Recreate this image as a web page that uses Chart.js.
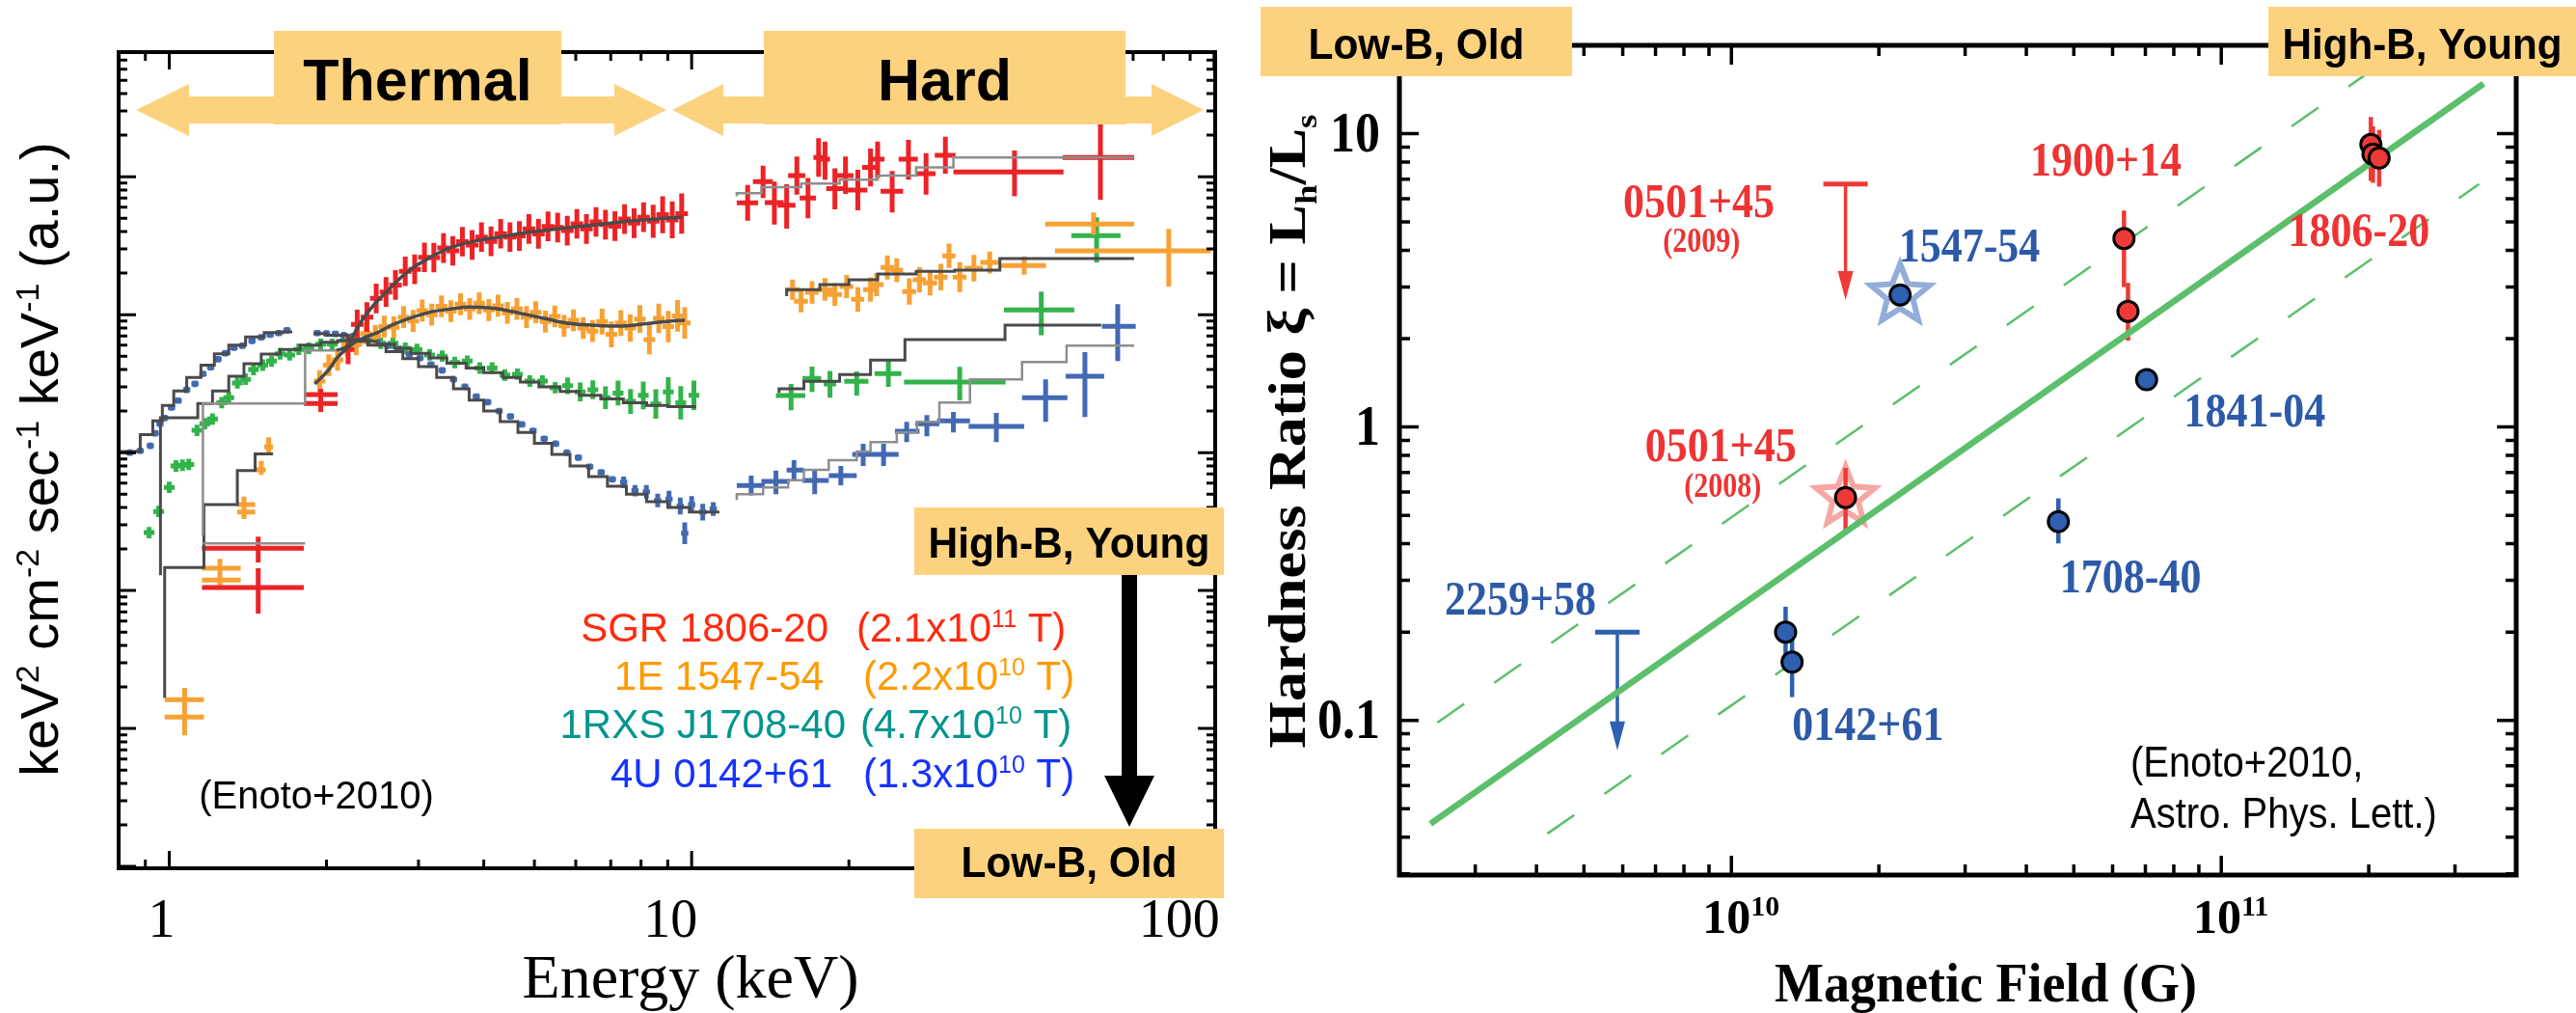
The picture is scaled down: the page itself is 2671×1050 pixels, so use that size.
<!DOCTYPE html>
<html>
<head>
<meta charset="utf-8">
<script src="https://cdn.jsdelivr.net/npm/chart.js@4.4.1/dist/chart.umd.min.js"></script>
<style>
  html, body { margin: 0; padding: 0; background: #fff; }
  #wrap { position: relative; width: 2671px; height: 1050px; }
  canvas { position: absolute; top: 0; }
  #spec { left: 0; }
  #ratio { left: 1300px; }
</style>
</head>
<body>
<div id="wrap">
  <canvas id="spec" width="1300" height="1050"></canvas>
  <canvas id="ratio" width="1371" height="1050"></canvas>
</div>
<script>
// ---------- spectra: [E keV, flux (a.u.), optional flux error factor] ----------
const energyTicks = [1, 10, 100];

const sgrSoft = [[2.20,5.6],[2.29,8.5],[2.39,9.6],[2.49,13.1],[2.60,14.6],[2.71,16.4],[2.83,20.6],[2.95,21.3],[3.08,26.0],[3.21,25.9],[3.35,30.4],[3.49,29.0],[3.64,33.8],[3.80,32.0],[3.96,36.5],[4.13,34.0],[4.31,38.6],[4.49,36.5],[4.68,37.2],[4.88,41.8],[5.09,38.5],[5.31,43.6],[5.54,42.8],[5.78,40.6],[6.03,45.5],[6.29,41.8],[6.56,47.0],[6.84,44.9],[7.13,43.8],[7.44,49.3],[7.76,46.0],[8.09,50.8],[8.44,47.5,1.32],[8.80,53.0,1.36],[9.18,48.6,1.36],[9.57,54.0,1.4]];
const axpSoft = [[1.94,3.3],[2.02,4.3],[2.10,4.7],[2.19,6.0],[2.28,6.1],[2.38,7.3],[2.48,7.0],[2.58,8.2],[2.69,8.1],[2.81,9.6],[2.93,9.0],[3.05,10.7],[3.18,10.0],[3.32,11.5],[3.46,10.6],[3.61,11.9],[3.76,11.0],[3.92,12.1],[4.09,10.8],[4.26,11.6],[4.44,10.3],[4.63,11.0],[4.83,9.6],[5.03,10.4],[5.25,8.9],[5.47,9.7],[5.70,8.3],[5.94,9.1],[6.20,8.0],[6.46,7.6],[6.74,8.9,1.24],[7.02,7.2,1.24],[7.32,8.7,1.24],[7.63,8.0,1.26],[7.96,9.3,1.26],[8.30,6.6,1.28],[8.65,9.4,1.28],[9.02,8.2,1.3],[9.40,9.8,1.3],[9.70,8.7,1.3]];
const rxsSoft = [[0.915,0.263],[0.954,0.374],[1.0,0.56],[1.03,0.80],[1.06,0.81],[1.09,0.82],[1.13,1.45],[1.17,1.62],[1.21,1.75],[1.26,2.3],[1.30,2.5],[1.35,3.2],[1.40,3.4],[1.45,4.0],[1.51,4.3],[1.57,4.6],[1.63,5.2],[1.70,5.1],[1.77,5.6],[1.85,5.7],[1.95,6.1],[2.05,6.1],[2.17,6.5],[2.29,6.4],[2.41,6.6],[2.54,6.2],[2.68,6.2],[2.83,5.7],[2.98,5.6],[3.15,5.1],[3.33,5.0],[3.52,4.5],[3.72,4.6],[3.93,4.1],[4.15,4.1],[4.39,3.65],[4.64,3.7],[4.90,3.3],[5.18,3.3],[5.48,2.95],[5.79,3.05,1.15],[6.12,2.75,1.17],[6.47,2.85,1.17],[6.84,2.5,1.21],[7.23,2.7,1.23],[7.64,2.35,1.23],[8.08,2.6,1.26],[8.54,2.25,1.28],[9.02,2.75,1.28],[9.53,2.3,1.32],[10.1,2.6,1.28]];
const u0142Soft = [[0.84,1.0],[0.88,1.03],[0.92,1.12],[0.94,1.38],[0.96,1.62],[0.98,1.78],[1.01,2.12],[1.04,2.38],[1.08,2.85],[1.12,3.15],[1.16,3.72],[1.20,4.15],[1.24,4.75],[1.28,5.25],[1.33,5.75],[1.38,5.95],[1.44,6.45],[1.50,6.85],[1.56,7.15],[1.62,7.35],[1.68,7.7],[1.92,7.35],[2.00,7.3],[2.08,7.25],[2.16,7.1],[2.25,7.0],[2.40,6.55],[2.50,6.35],[2.62,5.95],[2.75,5.65],[2.88,5.15],[3.02,4.85],[3.17,4.35],[3.33,3.95],[3.50,3.4],[3.68,3.0],[3.87,2.55],[4.07,2.32],[4.28,2.0],[4.50,1.83],[4.73,1.6],[4.97,1.44],[5.22,1.26],[5.49,1.16],[5.77,1.0],[6.07,0.92],[6.38,0.79],[6.71,0.72],[7.05,0.64],[7.41,0.61,1.1],[7.79,0.53,1.1],[8.19,0.52,1.12],[8.61,0.45,1.12],[9.05,0.46,1.15],[9.51,0.41,1.15],[9.70,0.26,1.2],[10.0,0.42,1.15],[10.5,0.37,1.15],[11.0,0.39,1.12]];

// wide-bin points: [E, flux, Elo, Ehi, fluxLo, fluxHi]
const sgrWide = [[1.48,0.203,1.155,1.81,0.160,0.246],[1.48,0.105,1.155,1.81,0.068,0.145],[1.95,2.63,1.81,2.10,1.97,2.90],[1.95,2.27,1.81,2.10,1.97,2.90]];
const axpWide = [[1.07,0.0162,0.98,1.165,0.0140,0.0197],[1.07,0.0121,0.98,1.165,0.0089,0.0140],[1.25,0.145,1.155,1.37,0.125,0.170],[1.25,0.119,1.155,1.37,0.105,0.135],[1.39,0.42,1.35,1.46,0.34,0.48],[1.39,0.37,1.35,1.46,0.33,0.42],[1.50,0.75,1.46,1.53,0.69,0.87],[1.55,1.10,1.52,1.58,0.98,1.29]];
const sgrHard = [[12.8,64.7,12.2,13.4,48,87],[13.7,92,13.1,14.3,70,120],[14.4,65,13.8,15.0,45,92],[15.2,62,14.6,15.8,42,88],[15.9,102,15.3,16.5,74,140],[16.7,70,16.1,17.3,50,98],[17.5,138,17.1,17.9,100,190],[18.0,134,17.6,18.4,95,180],[18.8,82,18.1,19.5,58,115],[19.7,102,19.0,20.4,75,140],[20.8,80,19.9,21.7,57,112],[22.0,117,21.2,22.8,85,160],[22.7,134,22.0,23.4,98,180],[24.2,78.5,23.0,25.4,55,110],[26.0,134,24.9,27.1,95,185],[28.1,105,26.9,29.3,74,148],[30.6,143,29.2,32.0,105,195],[41.5,108,31.7,51.5,72,155],[60.6,138,51.3,70.3,68,246]];
const axpHard = [[15.6,15.2,15.1,16.1,12.8,18.0],[16.2,12.5,15.7,16.7,10.4,15.0],[17.0,14.5,16.5,17.5,12.0,17.5],[18.0,15.2,17.4,18.6,12.6,18.4],[18.8,14.0,18.2,19.4,11.6,16.9],[19.8,16.0,19.2,20.4,13.2,19.4],[20.8,12.9,20.2,21.4,10.5,15.8],[22.0,15.2,21.3,22.7,12.4,18.6],[22.6,16.5,21.9,23.3,13.6,20.0],[23.7,22.0,23.0,24.4,18.0,26.9],[24.7,21.0,24.0,25.4,17.2,25.6],[26.1,14.7,25.3,26.9,11.8,18.3],[27.3,17.9,26.5,28.1,14.5,22.1],[28.6,17.0,27.7,29.5,13.8,21.0],[30.0,18.7,29.1,30.9,15.0,23.3],[31.1,26.7,30.2,32.0,21.8,32.7],[32.6,18.7,31.6,33.6,14.6,24.0],[34.7,21.7,33.3,36.1,17.4,27.1],[37.2,23.9,35.7,38.7,19.9,28.7],[43.3,22.7,38.9,47.7,19.5,26.4],[58.8,45.4,47.5,70.3,38.0,55.1],[81.9,29.0,49.6,98.7,16.0,41.9]];
const rxsHard = [[15.5,2.59,14.5,16.5,2.03,3.14],[17.0,3.45,16.3,17.7,2.75,4.2],[18.4,3.14,17.9,18.9,2.5,3.9],[20.7,3.29,19.6,21.8,2.59,3.87],[23.8,3.74,22.4,25.2,3.0,4.6],[32.6,3.24,25.5,39.9,2.39,4.19],[46.7,10.8,39.6,54.0,7.1,14.7],[59.6,37.4,53.3,66.2,23.9,50.8]];
const u0142Hard = [[13.0,0.578,12.2,13.8,0.49,0.68],[14.5,0.617,13.6,15.4,0.50,0.74],[15.7,0.748,15.2,16.4,0.63,0.88],[17.2,0.627,16.3,18.3,0.50,0.74],[19.3,0.68,18.3,20.7,0.58,0.80],[21.3,0.97,20.3,22.4,0.80,1.16],[23.3,0.97,22.0,24.9,0.80,1.16],[25.8,1.43,24.5,27.3,1.19,1.67],[28.2,1.62,26.8,29.8,1.31,1.87],[31.7,1.70,29.5,34.1,1.40,1.97],[38.3,1.55,33.9,43.3,1.19,1.94],[47.6,2.50,42.9,52.4,1.67,3.40],[56.6,3.57,52.0,61.6,1.81,5.34],[65.4,8.24,61.0,70.8,4.6,11.9]];

// best-fit models [E, flux]
const sgrModel = [[2.09,5.5],[2.20,6.0],[2.29,8.0],[2.39,10.2],[2.49,12.3],[2.60,14.5],[2.71,17.0],[2.83,19.8],[2.95,22.3],[3.08,24.6],[3.35,29.2],[3.64,32.5],[3.96,34.8],[4.31,36.6],[4.68,38.6],[5.09,40.3],[5.54,41.9],[6.03,43.4],[6.56,44.8],[7.13,46.4],[7.76,48.0],[8.44,49.2],[9.18,50.5],[9.6,51.0]];
const sgrModelLow = [[1.16,0.25],[1.82,2.27],[2.09,5.5]];
const sgrModelLowAlt = [[1.16,0.22],[1.82,0.22]];
const sgrHardModel = [[12.2,72],[13.6,76],[16.2,84],[19.2,89],[22.7,95],[26.9,102],[31.7,117],[51.3,138],[70.3,138]];
const axpModel = [[1.90,3.14],[2.02,4.0],[2.10,4.9],[2.19,5.7],[2.28,6.4],[2.38,6.9],[2.48,7.3],[2.69,8.5],[2.93,9.6],[3.18,10.5],[3.46,11.0],[3.76,11.35],[4.09,11.2],[4.44,10.7],[4.83,10.0],[5.25,9.35],[5.70,8.75],[6.20,8.45],[6.74,8.3],[7.32,8.25],[7.96,8.5],[8.65,8.8],[9.40,9.05],[9.70,9.1]];
const axpModelLow = [[0.98,0.0167],[1.165,0.147],[1.35,0.42],[1.46,0.74],[1.52,0.98],[1.58,0.98]];
const axpHardModel = [[15.2,13.6],[17.6,15.2],[20.0,16.5],[22.7,17.9],[26.9,19.7],[31.9,20.6],[38.9,21.0],[47.7,25.5],[70.3,25.5]];
const rxsModel = [[0.962,0.129],[0.962,0.81],[1.134,1.79],[1.21,2.27],[1.30,2.8],[1.39,3.57],[1.50,4.4],[1.63,5.17],[1.78,5.6],[1.95,6.0],[2.10,6.3],[2.30,6.5],[2.50,6.4],[2.70,6.1],[2.90,5.7],[3.15,5.25],[3.40,4.85],[3.70,4.45],[4.00,4.1],[4.35,3.8],[4.70,3.5],[5.10,3.25],[5.60,3.0],[6.10,2.78],[6.70,2.6],[7.40,2.45],[8.20,2.3],[9.00,2.2],[10.2,2.15]];
const rxsHardModel = [[14.7,2.71],[16.4,2.90],[19.2,3.29],[22.0,3.68],[25.6,4.69],[39.8,6.58],[53.8,8.38],[60.8,8.38]];
const u0142ModelA = [[0.80,0.98],[0.88,1.02],[0.93,1.35],[0.97,1.7],[1.02,2.2],[1.08,2.8],[1.15,3.5],[1.22,4.3],[1.30,5.2],[1.40,6.0],[1.52,6.9],[1.65,7.4],[1.72,7.5]];
const u0142ModelB = [[1.90,7.45],[2.0,7.3],[2.2,7.1],[2.4,6.6],[2.6,6.0],[2.8,5.4],[3.0,4.8],[3.25,4.2],[3.5,3.5],[3.75,2.9],[4.0,2.4],[4.3,2.0],[4.65,1.68],[5.0,1.40],[5.4,1.17],[5.85,0.97],[6.35,0.80],[6.9,0.67],[7.5,0.57],[8.2,0.50],[9.0,0.44],[9.9,0.40],[10.9,0.37],[11.3,0.37]];
const u0142HardModel = [[12.2,0.454],[13.7,0.50],[15.3,0.56],[16.4,0.63],[18.3,0.75],[20.7,0.88],[22.0,1.02],[24.7,1.19],[27.0,1.40],[29.8,1.67],[34.1,2.31],[42.9,3.40],[52.2,4.54],[61.3,5.97],[70.3,5.97]];

const legendNames = ['SGR 1806-20', '1E 1547-54', '1RXS J1708-40', '4U 0142+61'];
const legendField = [['2.1', '11'], ['2.2', '10'], ['4.7', '10'], ['1.3', '10']];

// ---------- hardness ratio vs B ----------
const srcB    = [1.29e10, 1.33e10, 2.21e10, 1.71e10, 6.33e10, 6.45e10, 2.02e11, 2.04e11, 2.10e11, 7.04e10, 4.65e10];
const srcXi   = [0.200, 0.158, 2.82, 0.575, 4.39, 2.48, 9.18, 8.51, 8.26, 1.45, 0.476];
const srcXiLo = [0.158, 0.12, null, 0.438, 3.0, 1.97, 6.9, 6.8, 6.6, null, 0.401];
const srcXiHi = [0.244, 0.20, null, 0.726, 5.47, 3.10, 11.4, 10.6, 10.3, null, 0.571];
const srcKind = ['AXP', 'AXP', 'AXP', 'SGR', 'SGR', 'SGR', 'SGR', 'SGR', 'SGR', 'AXP', 'AXP'];

const limB = [1.71e10, 5.85e9];
const limTop = [6.73, 0.20];
const limTip = [2.71, 0.079];
const limKind = ['SGR', 'AXP'];

const burstB = [2.21e10, 1.71e10];
const burstXi = [2.82, 0.575];
const burstKind = ['AXP', 'SGR'];

const fitB = [2.43e9, 3.43e11], fitXi = [0.0444, 14.8];
const fitUpB = [2.51e9, 1.96e11], fitUpXi = [0.0983, 15.8];
const fitLowB = [4.21e9, 3.36e11], fitLowXi = [0.0411, 6.73];

const nameText = ['0501+45', '(2009)', '1547-54', '0501+45', '(2008)', '1900+14', '1806-20', '1841-04', '1708-40', '2259+58', '0142+61'];
const nameB    = [8.58e9, 8.69e9, 3.06e10, 9.51e9, 9.6e9, 5.81e10, 1.91e11, 1.17e11, 6.53e10, 3.71e9, 1.90e10];
const nameXi   = [5.73, 4.24, 4.05, 0.845, 0.619, 7.94, 4.57, 1.11, 0.301, 0.253, 0.0946];
const nameKind = ['SGR', 'SGR', 'AXP', 'SGR', 'SGR', 'SGR', 'SGR', 'AXP', 'AXP', 'AXP', 'AXP'];
const nameSmall = [false, true, false, false, true, false, false, false, false, false, false];

const ratioTicks = [0.1, 1, 10];
const fieldTicks = [1e10, 1e11];

// ---------- shared helpers ----------
const SANS = '"Liberation Sans", Arial, sans-serif';
const SERIF = '"Liberation Serif", "Times New Roman", serif';
const BANNER = '#fdd27f';

const xy = arr => arr.map(p => ({ x: p[0], y: p[1] }));

function crosses(points, fx, fy) {
  return points.map(p => p.length > 3
    ? { x: p[0], y: p[1], xMin: p[2], xMax: p[3], yMin: p[4], yMax: p[5] }
    : { x: p[0], y: p[1], xMin: p[0] / fx, xMax: p[0] * fx, yMin: p[1] / (p[2] || fy), yMax: p[1] * (p[2] || fy) });
}

function logTicks(min, max) {
  const out = [];
  for (let d = Math.floor(Math.log10(min)); d <= Math.ceil(Math.log10(max)); d++) {
    for (let m = 1; m < 10; m++) {
      const v = m * Math.pow(10, d);
      if (v >= min * 0.999 && v <= max * 1.001) out.push({ v, major: m === 1 });
    }
  }
  return out;
}

function drawFrame(chart, o) {
  const { ctx, chartArea: a, scales: { x, y } } = chart;
  ctx.save();
  ctx.strokeStyle = '#000';
  ctx.lineCap = 'butt';
  ctx.lineWidth = o.tickWidth;
  ctx.beginPath();
  logTicks(x.min, x.max).forEach(t => {
    const px = x.getPixelForValue(t.v), len = t.major ? o.major : o.minor;
    ctx.moveTo(px, a.bottom); ctx.lineTo(px, a.bottom - len);
    ctx.moveTo(px, a.top); ctx.lineTo(px, a.top + len);
  });
  logTicks(y.min, y.max).forEach(t => {
    const py = y.getPixelForValue(t.v), len = t.major ? o.major : o.minor;
    ctx.moveTo(a.left, py); ctx.lineTo(a.left + len, py);
    ctx.moveTo(a.right, py); ctx.lineTo(a.right - len, py);
  });
  ctx.stroke();
  ctx.lineWidth = o.frameWidth;
  ctx.strokeRect(a.left, a.top, a.right - a.left, a.bottom - a.top);
  ctx.restore();
}

// text runs: {t}, {t, s:1} superscript, {t, b:1} subscript
function runFont(p, size, weight, family) {
  return `${weight} ${(p.s || p.b) ? Math.round(size * 0.6) : size}px ${family}`;
}
function drawRich(ctx, parts, x, y, size, weight, family, align) {
  let w = 0;
  parts.forEach(p => { ctx.font = runFont(p, size, weight, family); w += ctx.measureText(p.t).width; });
  let cx = align === 'center' ? x - w / 2 : align === 'right' ? x - w : x;
  ctx.textAlign = 'left';
  ctx.textBaseline = 'alphabetic';
  parts.forEach(p => {
    ctx.font = runFont(p, size, weight, family);
    const dy = p.s ? -size * 0.36 : p.b ? size * 0.22 : 0;
    ctx.fillText(p.t, cx, y + dy);
    cx += ctx.measureText(p.t).width;
  });
}

// narrow, tall lettering: glyph height of `size * stretch`, width of `size`
function tallText(ctx, text, x, y, size, weight, family, stretch) {
  ctx.font = `${weight} ${size}px ${family}`;
  const w = ctx.measureText(text).width;
  ctx.font = `${weight} ${Math.round(size * stretch)}px ${family}`;
  ctx.fillText(text, x, y, w);
}

function banner(ctx, x0, y0, x1, y1, text, size, baseline, maxW) {
  ctx.fillStyle = BANNER;
  ctx.fillRect(x0, y0, x1 - x0, y1 - y0);
  ctx.fillStyle = '#000';
  ctx.font = `bold ${size}px ${SANS}`;
  ctx.textAlign = 'center';
  ctx.textBaseline = 'alphabetic';
  ctx.fillText(text, (x0 + x1) / 2, baseline, maxW);
}

function doubleArrow(ctx, tipL, baseL, baseR, tipR, cy, headH, shaftH) {
  ctx.fillStyle = BANNER;
  ctx.beginPath();
  ctx.moveTo(tipL, cy);
  ctx.lineTo(baseL, cy - headH / 2); ctx.lineTo(baseL, cy - shaftH / 2);
  ctx.lineTo(baseR, cy - shaftH / 2); ctx.lineTo(baseR, cy - headH / 2);
  ctx.lineTo(tipR, cy);
  ctx.lineTo(baseR, cy + headH / 2); ctx.lineTo(baseR, cy + shaftH / 2);
  ctx.lineTo(baseL, cy + shaftH / 2); ctx.lineTo(baseL, cy + headH / 2);
  ctx.closePath();
  ctx.fill();
}

// ---------- left panel: spectra ----------
const crossPlugin = {
  id: 'spectrumCrosses',
  beforeDatasetsDraw(chart) {
    const { ctx, chartArea: a, scales: { x, y } } = chart;
    ctx.save();
    ctx.beginPath();
    ctx.rect(a.left, a.top, a.right - a.left, a.bottom - a.top);
    ctx.clip();
    chart.data.datasets.forEach(ds => {
      if (!ds.crossColor) return;
      ctx.strokeStyle = ds.crossColor;
      ctx.lineWidth = ds.crossWidth;
      ctx.beginPath();
      ds.data.forEach(p => {
        const px = x.getPixelForValue(p.x), py = y.getPixelForValue(p.y);
        ctx.moveTo(x.getPixelForValue(p.xMin), py); ctx.lineTo(x.getPixelForValue(p.xMax), py);
        ctx.moveTo(px, y.getPixelForValue(p.yMin)); ctx.lineTo(px, y.getPixelForValue(p.yMax));
      });
      ctx.stroke();
    });
    ctx.restore();
  },
  afterDraw(chart) {
    const { ctx, scales: { x } } = chart;
    drawFrame(chart, { frameWidth: 4, tickWidth: 3, major: 18, minor: 9 });
    ctx.save();
    ctx.fillStyle = '#000';
    ctx.font = `56px ${SERIF}`;
    ctx.textAlign = 'right';
    ctx.textBaseline = 'alphabetic';
    energyTicks.forEach(t => ctx.fillText(String(t), x.getPixelForValue(t) + 6, 971));
    ctx.font = `64px ${SERIF}`;
    ctx.textAlign = 'center';
    ctx.fillText('Energy (keV)', 716, 1034);
    ctx.save();
    ctx.translate(60, 476);
    ctx.rotate(-Math.PI / 2);
    drawRich(ctx, [{ t: 'keV' }, { t: '2', s: 1 }, { t: ' cm' }, { t: '-2', s: 1 }, { t: ' sec' }, { t: '-1', s: 1 },
      { t: ' keV' }, { t: '-1', s: 1 }, { t: ' (a.u.)' }], 0, 0, 56, 'normal', SANS, 'center');
    ctx.restore();

    // band arrows and boxes
    doubleArrow(ctx, 141, 196, 637, 691, 114, 54, 28);
    doubleArrow(ctx, 697, 750, 1194, 1248, 114, 54, 28);
    banner(ctx, 284, 32, 582, 129, 'Thermal', 61, 104, 280);
    banner(ctx, 792, 32, 1167, 129, 'Hard', 61, 104, 340);
    banner(ctx, 948, 526, 1269, 596, 'High-B, Young', 44, 578, 292);
    banner(ctx, 948, 859, 1269, 931, 'Low-B, Old', 44, 909, 224);
    ctx.fillStyle = '#000';
    ctx.fillRect(1163, 596, 16, 210);
    ctx.beginPath();
    ctx.moveTo(1145, 804); ctx.lineTo(1197, 804); ctx.lineTo(1171, 857);
    ctx.closePath();
    ctx.fill();

    // source list
    const colors = ['#ff2a10', '#ff9a00', '#00958f', '#1633ff'];
    const nameEnd = [859, 854, 877, 863];
    const fieldStart = [888, 895, 892, 895];
    const base = [665, 715, 765, 816];
    legendNames.forEach((n, i) => {
      ctx.fillStyle = colors[i];
      ctx.font = `42px ${SANS}`;
      ctx.textAlign = 'right';
      ctx.fillText(n, nameEnd[i], base[i]);
      drawRich(ctx, [{ t: '(' + legendField[i][0] + 'x10' }, { t: legendField[i][1], s: 1 }, { t: ' T)' }],
        fieldStart[i], base[i], 42, 'normal', SANS, 'left');
    });
    ctx.fillStyle = '#000';
    ctx.font = `40px ${SANS}`;
    ctx.textAlign = 'center';
    ctx.fillText('(Enoto+2010)', 328, 838);
    ctx.restore();
  }
};

const RED = '#ec2326', ORANGE = '#f7a134', GREEN = '#33b34b', BLUE = '#4369b3';
const DARK = '#4a4a4a', LIGHT = '#8e8e8e';

function crossSet(points, color, width, fx, fy) {
  return { data: crosses(points, fx, fy), crossColor: color, crossWidth: width, showLine: false, pointRadius: 0 };
}
function modelSet(points, color, width, stepped) {
  return {
    data: xy(points), showLine: true, pointRadius: 0, borderColor: color, borderWidth: width,
    stepped: stepped ? 'after' : false, cubicInterpolationMode: stepped ? 'default' : 'monotone', tension: stepped ? 0 : 0.4
  };
}

new Chart(document.getElementById('spec'), {
  type: 'scatter',
  data: {
    datasets: [
      crossSet(rxsSoft, GREEN, 5, 1.024, 1.1),
      crossSet(rxsHard, GREEN, 5, 1, 1),
      crossSet(u0142Soft, BLUE, 5, 1.016, 1.055),
      crossSet(u0142Hard, BLUE, 5, 1, 1),
      crossSet(axpWide, ORANGE, 5, 1, 1),
      crossSet(axpSoft, ORANGE, 5, 1.026, 1.2),
      crossSet(axpHard, ORANGE, 5, 1, 1),
      crossSet(sgrWide, RED, 5, 1, 1),
      crossSet(sgrSoft, RED, 5, 1.028, 1.28),
      crossSet(sgrHard, RED, 5, 1, 1),
      modelSet(sgrModelLowAlt, LIGHT, 2.5, true),
      modelSet(sgrModelLow, LIGHT, 2.5, true),
      modelSet(sgrModel, DARK, 3.5, false),
      modelSet(sgrHardModel, LIGHT, 2.5, true),
      modelSet(axpModelLow, DARK, 3, true),
      modelSet(axpModel, DARK, 3.5, false),
      modelSet(axpHardModel, DARK, 3, true),
      modelSet(rxsModel, DARK, 3, true),
      modelSet(rxsHardModel, DARK, 3, true),
      modelSet(u0142ModelA, DARK, 3, true),
      modelSet(u0142ModelB, DARK, 3, true),
      modelSet(u0142HardModel, LIGHT, 2.5, true)
    ]
  },
  options: {
    responsive: false, animation: false, devicePixelRatio: 1, events: [],
    layout: { padding: { left: 123, right: 40, top: 54, bottom: 150 } },
    plugins: { legend: { display: false }, tooltip: { enabled: false } },
    scales: {
      x: { type: 'logarithmic', min: 0.8, max: 100.5, display: false },
      y: { type: 'logarithmic', min: 9.7e-4, max: 800, display: false }
    }
  },
  plugins: [crossPlugin]
});

// ---------- right panel: hardness ratio ----------
const PT_RED = '#ee3a36', PT_BLUE = '#2e5fb0';
const TX_RED = '#ee3333', TX_BLUE = '#2d5aa8';
const STAR = { AXP: 'rgba(120,152,208,0.8)', SGR: 'rgba(242,128,124,0.7)' };
const FIT = '#5cbf6b';

function starPath(ctx, cx, cy, R, r) {
  ctx.beginPath();
  for (let k = 0; k < 10; k++) {
    const ang = -Math.PI / 2 + k * Math.PI / 5, rad = k % 2 ? r : R;
    const px = cx + rad * Math.cos(ang), py = cy + rad * Math.sin(ang);
    k ? ctx.lineTo(px, py) : ctx.moveTo(px, py);
  }
  ctx.closePath();
}

const ratioPlugin = {
  id: 'ratioMarks',
  beforeDatasetsDraw(chart) {
    const { ctx, scales: { x, y } } = chart;
    ctx.save();
    burstB.forEach((b, i) => {
      starPath(ctx, x.getPixelForValue(b), y.getPixelForValue(burstXi[i]), 32, 14);
      ctx.strokeStyle = STAR[burstKind[i]];
      ctx.lineWidth = 6;
      ctx.lineJoin = 'miter';
      ctx.stroke();
    });
    srcB.forEach((b, i) => {
      if (srcXiLo[i] == null) return;
      const px = x.getPixelForValue(b);
      ctx.strokeStyle = srcKind[i] === 'SGR' ? PT_RED : PT_BLUE;
      ctx.lineWidth = 4.5;
      ctx.beginPath();
      ctx.moveTo(px, y.getPixelForValue(srcXiLo[i]));
      ctx.lineTo(px, y.getPixelForValue(srcXiHi[i]));
      ctx.stroke();
    });
    limB.forEach((b, i) => {
      const px = x.getPixelForValue(b), top = y.getPixelForValue(limTop[i]), tip = y.getPixelForValue(limTip[i]);
      const c = limKind[i] === 'SGR' ? PT_RED : PT_BLUE;
      ctx.strokeStyle = c; ctx.fillStyle = c;
      ctx.lineWidth = 5;
      ctx.beginPath(); ctx.moveTo(px - 23, top); ctx.lineTo(px + 23, top); ctx.stroke();
      ctx.lineWidth = 3.5;
      ctx.beginPath(); ctx.moveTo(px, top); ctx.lineTo(px, tip - 20); ctx.stroke();
      ctx.beginPath(); ctx.moveTo(px - 8, tip - 30); ctx.lineTo(px + 8, tip - 30); ctx.lineTo(px, tip); ctx.closePath(); ctx.fill();
    });
    ctx.restore();
  },
  afterDraw(chart) {
    const { ctx, chartArea: a, scales: { x, y } } = chart;
    drawFrame(chart, { frameWidth: 5, tickWidth: 3.5, major: 20, minor: 11 });
    ctx.save();
    ctx.fillStyle = '#000';
    ctx.textAlign = 'right';
    ctx.textBaseline = 'middle';
    ratioTicks.forEach(t => tallText(ctx, String(t), a.left - 20, y.getPixelForValue(t) + 3, 52, 'bold', SERIF, 1.15));
    fieldTicks.forEach(t => {
      drawRich(ctx, [{ t: '10' }, { t: String(Math.round(Math.log10(t))), s: 1 }],
        x.getPixelForValue(t) + 10, 967, 50, 'bold', SERIF, 'center');
    });
    ctx.fillStyle = '#000';
    ctx.textAlign = 'center';
    ctx.textBaseline = 'alphabetic';
    tallText(ctx, 'Magnetic Field (G)', 759, 1038, 54, 'bold', SERIF, 1.08);
    ctx.save();
    ctx.translate(53, 447);
    ctx.rotate(-Math.PI / 2);
    ctx.scale(1.15, 1);
    drawRich(ctx, [{ t: 'Hardness Ratio \u03BE = L' }, { t: 'h', b: 1 }, { t: '/L' }, { t: 's', b: 1 }], 0, 0, 54, 'bold', SERIF, 'center');
    ctx.restore();

    // source names
    nameText.forEach((n, i) => {
      ctx.fillStyle = nameKind[i] === 'SGR' ? TX_RED : TX_BLUE;
      ctx.textAlign = 'center';
      ctx.textBaseline = 'middle';
      tallText(ctx, n, x.getPixelForValue(nameB[i]), y.getPixelForValue(nameXi[i]), nameSmall[i] ? 30 : 44, 'bold', SERIF, 1.15);
    });
    ctx.fillStyle = '#000';
    ctx.textAlign = 'left';
    ctx.textBaseline = 'alphabetic';
    tallText(ctx, '(Enoto+2010,', 909, 805, 40, 'normal', SANS, 1.1);
    tallText(ctx, 'Astro. Phys. Lett.)', 909, 858, 40, 'normal', SANS, 1.1);

    banner(ctx, 7, 7, 330, 79, 'Low-B, Old', 44, 61, 224);
    banner(ctx, 1052, 7, 1371, 79, 'High-B, Young', 44, 61, 290);
    ctx.restore();
  }
};

function srcPoints(kind) {
  return srcB.map((b, i) => ({ x: b, y: srcXi[i], k: srcKind[i] })).filter(p => p.k === kind);
}

new Chart(document.getElementById('ratio'), {
  type: 'scatter',
  data: {
    datasets: [
      { data: srcPoints('SGR'), pointRadius: 10.5, pointBackgroundColor: PT_RED, pointBorderColor: '#000', pointBorderWidth: 3, order: 0 },
      { data: srcPoints('AXP'), pointRadius: 10.5, pointBackgroundColor: PT_BLUE, pointBorderColor: '#000', pointBorderWidth: 3, order: 0 },
      { data: [{ x: fitB[0], y: fitXi[0] }, { x: fitB[1], y: fitXi[1] }], showLine: true, pointRadius: 0, borderColor: FIT, borderWidth: 6.5, order: 2 },
      { data: [{ x: fitUpB[0], y: fitUpXi[0] }, { x: fitUpB[1], y: fitUpXi[1] }], showLine: true, pointRadius: 0, borderColor: FIT, borderWidth: 2.5, borderDash: [34, 38], order: 2 },
      { data: [{ x: fitLowB[0], y: fitLowXi[0] }, { x: fitLowB[1], y: fitLowXi[1] }], showLine: true, pointRadius: 0, borderColor: FIT, borderWidth: 2.5, borderDash: [34, 38], order: 2 }
    ]
  },
  options: {
    responsive: false, animation: false, devicePixelRatio: 1, events: [],
    layout: { padding: { left: 151, right: 62, top: 47, bottom: 143 } },
    plugins: { legend: { display: false }, tooltip: { enabled: false } },
    scales: {
      x: { type: 'logarithmic', min: 2.1e9, max: 4e11, display: false },
      y: { type: 'logarithmic', min: 0.0297, max: 20, display: false }
    }
  },
  plugins: [ratioPlugin]
});
</script>
</body>
</html>
